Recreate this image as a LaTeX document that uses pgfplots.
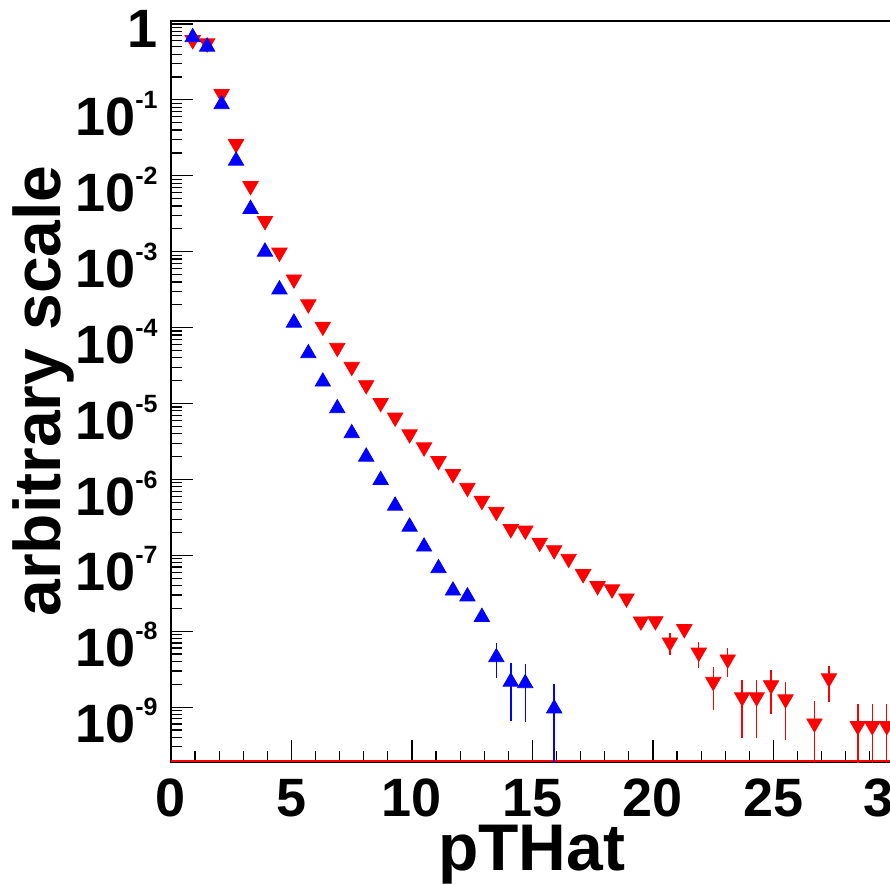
\documentclass[border=0pt]{standalone}
\usepackage{fontspec}
\setmainfont{Liberation Sans}
\usepackage{pgfplots}
\pgfplotsset{compat=1.18}
\newcommand{\E}[1]{10\raisebox{13.5pt}{\fontsize{12.5}{12.5}\selectfont #1}}
\begin{document}
\begin{tikzpicture}
\useasboundingbox (0,0) rectangle (445pt,442pt);
\clip (0,0) rectangle (445pt,442pt);
\begin{axis}[
  at={(85.5pt,60.85pt)}, anchor=south west,
  scale only axis, width=385.6pt, height=370.65pt,
  xmin=0, xmax=32, ymode=log, ymin=1.875e-10, ymax=1.095,
  xtick={0,5,10,15,20,25,30},
  xticklabels={0,5,10,15,20,25,30},
  minor x tick num=4,
  ytick={1e-9,1e-8,1e-7,1e-6,1e-5,1e-4,1e-3,1e-2,1e-1,1},
  yticklabels={\E{-9},\E{-8},\E{-7},\E{-6},\E{-5},\E{-4},\E{-3},\E{-2},\E{-1},\raisebox{5.8pt}{1}},
  minor ytick={2e-10,3e-10,4e-10,5e-10,6e-10,7e-10,8e-10,9e-10,
    2e-9,3e-9,4e-9,5e-9,6e-9,7e-9,8e-9,9e-9,
    2e-8,3e-8,4e-8,5e-8,6e-8,7e-8,8e-8,9e-8,
    2e-7,3e-7,4e-7,5e-7,6e-7,7e-7,8e-7,9e-7,
    2e-6,3e-6,4e-6,5e-6,6e-6,7e-6,8e-6,9e-6,
    2e-5,3e-5,4e-5,5e-5,6e-5,7e-5,8e-5,9e-5,
    2e-4,3e-4,4e-4,5e-4,6e-4,7e-4,8e-4,9e-4,
    2e-3,3e-3,4e-3,5e-3,6e-3,7e-3,8e-3,9e-3,
    2e-2,3e-2,4e-2,5e-2,6e-2,7e-2,8e-2,9e-2,
    2e-1,3e-1,4e-1,5e-1,6e-1,7e-1,8e-1,9e-1},
  tick pos=left, tick align=inside,
  major tick length=11pt, minor tick length=5.5pt,
  tick style={black, line width=0.6pt},
  axis line style={black, line width=0.7pt},
  ticklabel style={font=\fontsize{27}{27}\selectfont\bfseries, inner sep=0pt},
  xticklabel style={anchor=base, yshift=-27.2pt},
  yticklabel style={anchor=base east, xshift=-6.5pt, yshift=-17.8pt},
  xlabel={pTHat}, ylabel={arbitrary scale},
  every axis x label/.style={at={(axis description cs:0.4678,-0.1466)}, anchor=base, inner sep=0pt, font=\fontsize{33}{33}\selectfont\bfseries},
  every axis y label/.style={at={(axis description cs:-0.1439,0.501)}, rotate=90, anchor=base, inner sep=0pt, font=\fontsize{33}{33}\selectfont\bfseries},
  clip=true,
]
\addplot[red, line width=0.8pt, forget plot] coordinates {(0,1.96e-10) (32,1.96e-10)};
\addplot[only marks, red, mark=triangle*, mark size=4.4pt,
  mark options={rotate=180, fill=red, draw=red},
  error bars/.cd, y dir=both, y explicit, error mark=none,
  error bar style={red, line width=0.7pt}]
  table[x=x, y=y, y error plus=ep, y error minus=em] {
x y ep em
0.9 0.615 0 0
1.5 0.557 0 0
2.1 0.1196 0 0
2.7 0.0262 0 0
3.3 7.34e-3 0 0
3.9 2.54e-3 0 0
4.5 9.75e-4 0 0
5.1 4.32e-4 0 0
5.7 2.03e-4 0 0
6.3 1.03e-4 0 0
6.9 5.43e-5 0 0
7.5 3.05e-5 0 0
8.1 1.75e-5 0 0
8.7 1.02e-5 0 0
9.3 6.54e-6 0 0
9.9 3.94e-6 0 0
10.5 2.65e-6 0 0
11.1 1.75e-6 0 0
11.7 1.18e-6 0 0
12.3 7.77e-7 0 0
12.9 5.23e-7 0 0
13.5 3.75e-7 0 0
14.1 2.22e-7 0 0
14.7 2.12e-7 0 0
15.3 1.47e-7 0 0
15.9 1.17e-7 0 0
16.5 9.02e-8 0 0
17.1 5.67e-8 0 0
17.7 3.94e-8 0 0
18.3 3.57e-8 0 0
18.9 2.71e-8 0 0
19.5 1.35e-8 0 0
20.1 1.36e-8 0 0
20.7 7.14e-9 2.3e-9 2.29e-9
21.3 1.07e-8 0 0
21.9 5.24e-9 2.0e-9 2.0e-9
22.5 2.16e-9 1.25e-9 1.244e-9
23.1 4.26e-9 1.75e-9 1.75e-9
23.7 1.35e-9 0.93e-9 0.955e-9
24.3 1.35e-9 0.93e-9 0.962e-9
24.9 1.95e-9 1.13e-9 1.14e-9
25.5 1.27e-9 0.85e-9 0.901e-9
26.7 6.12e-10 0.59e-9 5.12e-10
27.3 2.4e-9 1.08e-9 1.22e-9
28.5 5.64e-10 0.54e-9 4.64e-10
29.1 5.64e-10 0.54e-9 4.64e-10
29.7 5.64e-10 0.54e-9 4.64e-10
};
\addplot[only marks, blue, mark=triangle*, mark size=4.4pt,
  mark options={fill=blue, draw=blue},
  error bars/.cd, y dir=both, y explicit, error mark=none,
  error bar style={blue, line width=0.7pt}]
  table[x=x, y=y, y error plus=ep, y error minus=em] {
x y ep em
0.9 0.668 0 0
1.5 0.502 0 0
2.1 0.0875 0 0
2.7 0.0158 0 0
3.3 3.65e-3 0 0
3.9 1.0e-3 0 0
4.5 3.18e-4 0 0
5.1 1.16e-4 0 0
5.7 4.58e-5 0 0
6.3 1.94e-5 0 0
6.9 8.64e-6 0 0
7.5 4.05e-6 0 0
8.1 1.99e-6 0 0
8.7 9.8e-7 0 0
9.3 4.5e-7 0 0
9.9 2.38e-7 0 0
10.5 1.30e-7 0 0
11.1 6.74e-8 0 0
11.7 3.42e-8 0 0
12.3 2.87e-8 0 0
12.9 1.54e-8 0 0
13.5 4.53e-9 2.53e-9 2.14e-9
14.1 2.16e-9 1.69e-9 1.5e-9
14.7 2.06e-9 1.64e-9 1.42e-9
15.9 9.6e-10 1.05e-9 8.6e-10
};
\end{axis}
\end{tikzpicture}
\end{document}
